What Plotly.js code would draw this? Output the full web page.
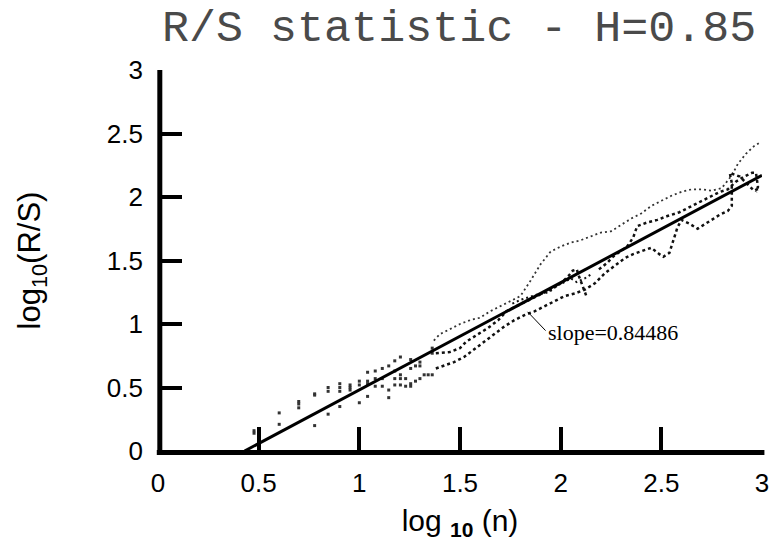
<!DOCTYPE html>
<html><head><meta charset="utf-8">
<script src="https://cdn.plot.ly/plotly-3.0.1.min.js"></script>
<style>html,body{margin:0;padding:0;background:#fff;}#chart{width:773px;height:552px;}</style>
</head><body><div id="chart"></div>
<script>
// Sparse R/S points for small block sizes (log10 n, log10 R/S)
const sparseX = [0.477,0.477,0.602,0.602,0.699,0.699,0.699,0.778,0.778,0.778,0.845,0.845,0.845,0.903,0.903,0.903,0.903,0.954,0.954,0.954,1.000,1.000,1.000,1.041,1.041,1.041,1.041,1.079,1.079,1.079,1.114,1.114,1.114,1.146,1.146,1.146,1.176,1.176,1.176,1.176,1.204,1.204,1.204,1.204,1.230,1.230,1.255,1.255,1.255,1.255,1.279,1.279,1.301,1.301,1.301,1.322,1.342,1.362,1.362,1.362];
const sparseY = [0.14,0.16,0.30,0.21,0.34,0.37,0.39,0.45,0.44,0.20,0.47,0.50,0.29,0.47,0.50,0.53,0.35,0.48,0.50,0.52,0.52,0.55,0.38,0.62,0.55,0.53,0.43,0.63,0.57,0.51,0.65,0.57,0.51,0.67,0.48,0.42,0.71,0.63,0.57,0.52,0.74,0.60,0.57,0.52,0.57,0.51,0.72,0.65,0.53,0.51,0.67,0.55,0.70,0.67,0.57,0.60,0.60,0.81,0.77,0.60];

// Dense R/S curves for larger block sizes
const upperX = [1.37,1.40,1.45,1.50,1.55,1.60,1.65,1.70,1.75,1.80,1.85,1.90,1.95,2.00,2.05,2.10,2.15,2.20,2.25,2.30,2.35,2.40,2.45,2.50,2.55,2.60,2.65,2.70,2.75,2.80,2.85,2.88,2.92,2.96,2.99];
const upperY = [0.87,0.92,0.96,1.00,1.03,1.05,1.10,1.14,1.18,1.22,1.34,1.47,1.57,1.61,1.64,1.66,1.69,1.72,1.73,1.78,1.83,1.87,1.93,1.97,2.01,2.04,2.06,2.06,2.05,2.07,2.17,2.26,2.34,2.40,2.43];

const middleX = [1.38,1.45,1.50,1.53,1.59,1.64,1.69,1.73,1.78,1.83,1.88,1.92,1.96,2.00,2.04,2.06,2.08,2.09,2.11,2.13,null,2.19,2.23,2.26,2.30,2.33,2.36,2.38,2.43,2.48,2.53,2.59,2.64,2.69,2.74,2.79,2.83,2.87,2.91,2.95,2.97,2.98,2.97];
const middleY = [0.77,0.78,0.81,0.86,0.92,0.97,1.03,1.10,1.14,1.18,1.22,1.25,1.28,1.32,1.38,1.42,1.43,1.38,1.30,1.21,null,1.43,1.48,1.53,1.58,1.61,1.68,1.77,1.80,1.82,1.85,1.88,1.92,1.96,2.00,2.04,2.06,2.12,2.16,2.19,2.19,2.08,2.04];

const lowerX = [1.38,1.43,1.47,1.52,1.57,1.62,1.67,1.72,1.77,1.82,1.87,1.92,1.97,2.02,2.07,2.12,2.17,2.22,2.27,2.32,2.36,2.40,2.45,2.49,2.51,2.54,2.56,2.58,2.60,2.64,2.68,2.72,2.75,2.79,2.83,2.85,2.85,2.84,2.89,2.93,2.96,2.99];
const lowerY = [0.65,0.68,0.70,0.74,0.80,0.86,0.92,0.98,1.03,1.07,1.10,1.14,1.18,1.22,1.24,1.27,1.32,1.40,1.46,1.52,1.55,1.57,1.60,1.55,1.53,1.56,1.66,1.76,1.82,1.79,1.75,1.79,1.82,1.86,1.89,1.93,2.11,2.19,2.16,2.10,2.05,2.07];

const nearX = [1.76,1.80,1.84,1.88,1.92,1.95,1.98,2.02,2.05,2.08,2.12,2.16];
const nearY = [1.16,1.19,1.21,1.23,1.24,1.26,1.30,1.33,1.36,1.33,1.36,1.40];

// Least-squares fit line (slope = 0.84486)
const fitX = [0.43, 3.0];
const fitY = [0.0, 2.17];

const tickVals = [0, 0.5, 1, 1.5, 2, 2.5, 3];
const tickText = ['0', '0.5', '1', '1.5', '2', '2.5', '3'];

const dotLine = (c, w, d) => ({color: c, width: w, dash: d});

const traces = [
  {x: sparseX, y: sparseY, mode: 'markers', type: 'scatter',
   marker: {color: '#333', size: 3, symbol: 'square'}, hoverinfo: 'skip'},
  {x: upperX, y: upperY, mode: 'lines', type: 'scatter', line: dotLine('#333', 1.8, '2px,3px'), hoverinfo: 'skip'},
  {x: middleX, y: middleY, mode: 'lines', type: 'scatter', line: dotLine('#111', 2.5, '3px,3px'), hoverinfo: 'skip'},
  {x: lowerX, y: lowerY, mode: 'lines', type: 'scatter', line: dotLine('#111', 2.5, '3px,3px'), hoverinfo: 'skip'},
  {x: nearX, y: nearY, mode: 'lines', type: 'scatter', line: dotLine('#111', 2, '2px,3px'), hoverinfo: 'skip'},
  {x: fitX, y: fitY, mode: 'lines', type: 'scatter', line: {color: '#000', width: 3}, hoverinfo: 'skip'}
];

const tickFont = {family: 'Liberation Sans, Arial, sans-serif', size: 26, color: '#000'};
const titleFont = {family: 'Liberation Sans, Arial, sans-serif', size: 30, color: '#000'};

const layout = {
  width: 773, height: 552,
  paper_bgcolor: '#fff', plot_bgcolor: '#fff',
  showlegend: false,
  margin: {l: 158, r: 11, t: 70, b: 101},
  title: {
    text: 'R/S statistic - H=0.85',
    font: {family: 'Liberation Mono, Courier New, monospace', size: 45, color: '#4a4a4a'},
    x: 0.594, xanchor: 'center', xref: 'container',
    y: 0.955, yanchor: 'middle', yref: 'container'
  },
  xaxis: {
    range: [0, 3], tickvals: tickVals, ticktext: tickText,
    showgrid: false, zeroline: false, showline: false,
    ticks: 'inside', ticklen: 24, tickwidth: 4, tickcolor: '#000',
    ticklabelstandoff: 14,
    tickfont: tickFont,
    title: {text: 'log <sub><b>10</b></sub> (n)', font: titleFont, standoff: 12}
  },
  yaxis: {
    range: [0, 3], tickvals: tickVals, ticktext: tickText,
    showgrid: false, zeroline: false, showline: false,
    ticks: 'inside', ticklen: 24, tickwidth: 4, tickcolor: '#000',
    ticklabelstandoff: 14,
    tickfont: tickFont,
    title: {text: 'log<sub>10</sub>(R/S)', font: {family: 'Liberation Sans, Arial, sans-serif', size: 31, color: '#000'}, standoff: 56}
  },
  shapes: [
    {type: 'line', xref: 'paper', yref: 'paper', x0: 0.003, y0: -0.005, x1: 0.003, y1: 1.0,
     line: {color: '#000', width: 5}, layer: 'above'},
    {type: 'line', xref: 'paper', yref: 'paper', x0: -0.002, y0: -0.004, x1: 1.004, y1: -0.004,
     line: {color: '#000', width: 5}, layer: 'above'},
    {type: 'line', xref: 'x', yref: 'y', x0: 1.836, y0: 1.096, x1: 1.925, y1: 0.948,
     line: {color: '#000', width: 1}}
  ],
  annotations: [
    {text: 'slope=0.84486', xref: 'x', yref: 'y', x: 1.925, y: 0.93,
     xanchor: 'left', yanchor: 'middle', showarrow: false,
     font: {family: 'Liberation Serif, Times New Roman, serif', size: 22, color: '#000'}}
  ]
};

Plotly.newPlot('chart', traces, layout, {displayModeBar: false, staticPlot: true});
</script></body></html>
